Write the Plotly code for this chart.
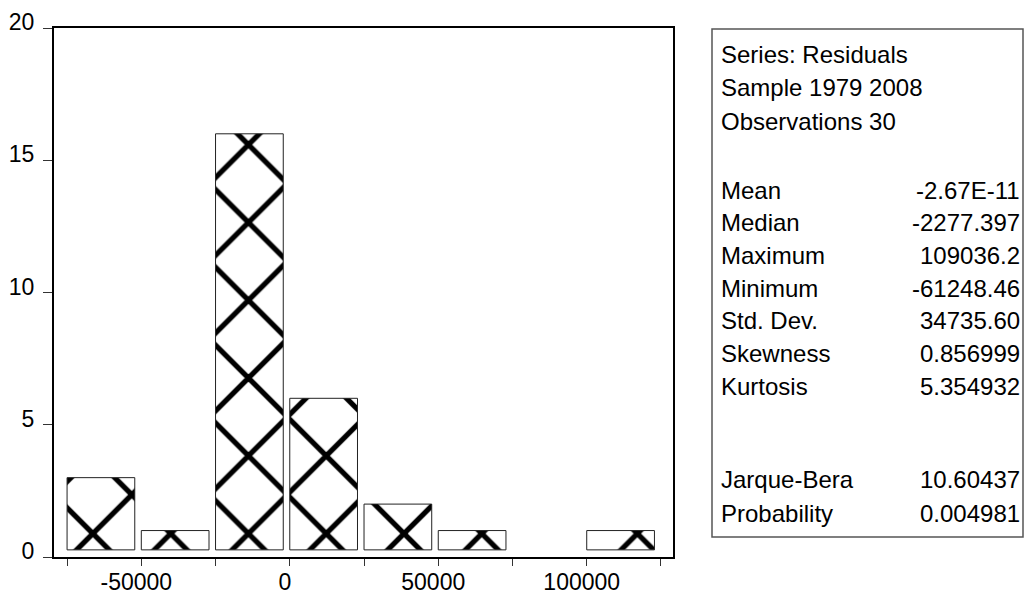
import subprocess
import plotly.graph_objects as go

# ---------------- data ----------------
bin_left = [-75000, -50000, -25000, 0, 25000, 50000, 75000, 100000]
counts = [3, 1, 16, 6, 2, 1, 0, 1]
bin_width = 25000

x_tickvals = [-75000, -50000, -25000, 0, 25000, 50000, 75000, 100000, 125000]
x_ticktext = ["", "-50000", "", "0", "", "50000", "", "100000", ""]
y_tickvals = [0, 5, 10, 15, 20]
y_ticktext = ["0", "5", "10", "15", "20"]

header_lines = ["Series: Residuals", "Sample 1979 2008", "Observations 30"]
stat_names = ["Mean", "Median", "Maximum", "Minimum", "Std. Dev.", "Skewness", "Kurtosis"]
stat_values = ["-2.67E-11", "-2277.397", "109036.2", "-61248.46", "34735.60", "0.856999", "5.354932"]
test_names = ["Jarque-Bera", "Probability"]
test_values = ["10.60437", "0.004981"]

# ---------------- font ----------------
try:
    fams = subprocess.run(["fc-list", ":", "family"], capture_output=True, text=True).stdout
except Exception:
    fams = ""
if "Liberation Sans Narrow" in fams:
    FONT = "Liberation Sans Narrow"
    TICK_SIZE, STAT_SIZE = 27, 28
else:
    FONT = "Liberation Sans"
    TICK_SIZE, STAT_SIZE = 23, 24

# ---------------- geometry ----------------
W, H = 1026, 599
L, R, T, B = 54, 673, 28, 557  # plot area in pixels


def px_x(px):
    return (px - L) / (R - L)


def px_y(py):
    return (B - py) / (B - T)


bar_gap_frac = 0.088
base_off = 0.27  # bars start slightly above zero (EViews style)

xs = [b for b, c in zip(bin_left, counts) if c > 0]
cs = [c for c in counts if c > 0]

fig = go.Figure()
fig.add_trace(go.Bar(
    x=xs,
    y=[c - base_off for c in cs],
    base=base_off,
    width=bin_width * (1 - bar_gap_frac),
    offset=0,
    marker=dict(
        color="white",
        line=dict(color="#222222", width=1),
        pattern=dict(shape="x", size=55, solidity=0.18, fgcolor="black",
                     bgcolor="white", fillmode="replace"),
    ),
    showlegend=False,
    hoverinfo="skip",
))

fig.update_layout(
    width=W, height=H,
    margin=dict(l=L, r=W - R, t=T, b=H - B, pad=0, autoexpand=False),
    paper_bgcolor="white", plot_bgcolor="white",
    font=dict(family=FONT, color="black"),
    xaxis=dict(
        range=[-79400, 129050], automargin=False,
        showline=True, linecolor="black", linewidth=2, mirror=True,
        ticks="outside", ticklen=7, tickwidth=1, tickcolor="#333333",
        tickvals=x_tickvals, ticktext=x_ticktext,
        tickfont=dict(size=TICK_SIZE, family=FONT),
        showgrid=False, zeroline=False,
        ticklabelshift=-5, ticklabelstandoff=-4,
    ),
    yaxis=dict(
        range=[0, 20], automargin=False,
        showline=True, linecolor="black", linewidth=2, mirror=True,
        ticks="outside", ticklen=9, tickwidth=1, tickcolor="#333333",
        tickvals=y_tickvals, ticktext=y_ticktext,
        tickfont=dict(size=TICK_SIZE, family=FONT),
        showgrid=False, zeroline=False,
        ticklabelshift=-6, ticklabelstandoff=4,
    ),
)

# stats box
fig.add_shape(type="rect", xref="paper", yref="paper",
              x0=px_x(712), x1=px_x(1023), y0=px_y(537), y1=px_y(29),
              line=dict(color="#555555", width=1.5), fillcolor="rgba(0,0,0,0)")

TEXT_L, TEXT_R = 719, 1022
rows = []
for i, s in enumerate(header_lines):
    rows.append((s, "", 54 + 33.5 * i))
for i, (n, v) in enumerate(zip(stat_names, stat_values)):
    rows.append((n, v, 190 + 32.7 * i))
for i, (n, v) in enumerate(zip(test_names, test_values)):
    rows.append((n, v, 479 + 34 * i))

for name, val, yc in rows:
    fig.add_annotation(xref="paper", yref="paper", x=px_x(TEXT_L), y=px_y(yc),
                       text=name, showarrow=False, xanchor="left", yanchor="middle",
                       font=dict(size=STAT_SIZE, family=FONT, color="black"))
    if val:
        fig.add_annotation(xref="paper", yref="paper", x=px_x(TEXT_R), y=px_y(yc),
                           text=val, showarrow=False, xanchor="right", yanchor="middle",
                           font=dict(size=STAT_SIZE, family=FONT, color="black"))

fig.write_html("out.html")
